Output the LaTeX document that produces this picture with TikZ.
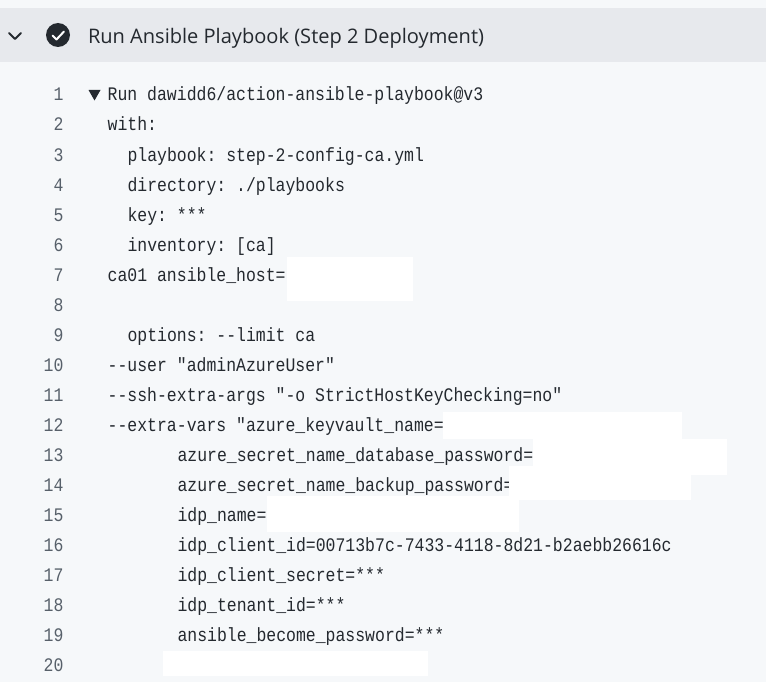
\documentclass[tikz,border=0pt]{standalone}
\usepackage{fontspec}
\setmainfont{Open Sans}
\newfontfamily\codefont[FakeStretch=0.86]{Liberation Mono}
\definecolor{pagebg}{HTML}{F6F8FA}
\definecolor{bandbg}{HTML}{E7E9ED}
\definecolor{inkdark}{HTML}{24292F}
\definecolor{numgrey}{HTML}{57606A}
\tikzset{
  codeline/.style={anchor=base west,inner sep=0pt,outer sep=0pt,text=inkdark,font=\frenchspacing\codefont\fontsize{19.15}{22}\selectfont},
  linenum/.style={anchor=base east,inner sep=0pt,outer sep=0pt,text=numgrey,font=\codefont\fontsize{19.15}{22}\selectfont},
  mask/.style={fill=white,draw=none},
  title/.style={anchor=base west,inner sep=0pt,outer sep=0pt,text=inkdark,font=\fontsize{20.05}{24}\selectfont}
}
\begin{document}
\begin{tikzpicture}[x=1pt,y=-1pt]
\useasboundingbox (0,0) rectangle (766,682);
\fill[pagebg] (0,0) rectangle (766,682);
\fill[bandbg] (0,8) rectangle (766,62);
% header
\draw[inkdark,line width=2pt,line cap=round,line join=round] (9,33) -- (15,39) -- (21,33);
\fill[inkdark] (58,35) circle (12);
\draw[white,line width=2pt,line cap=round,line join=round] (52.5,35.5) -- (56.5,39.5) -- (64,31.5);
\node[title] (head) at (88,44) {Run Ansible Playbook (Step 2 Deployment)};
% line numbers
\foreach \n in {1,...,20}{
  \node[linenum] (num\n) at (63.5,{101+30*(\n-1)}) {\n};
}
% disclosure triangle
\fill[inkdark] (88.5,90) -- (100.5,90) -- (94.5,100.5) -- cycle;
% code
\node[codeline] (l1) at (107.7,101) {Run dawidd6/action-ansible-playbook@v3};
\node[codeline] (l2) at (107.7,131) {with:};
\node[codeline] (l3) at (127.5,161) {playbook: step-2-config-ca.yml};
\node[codeline] (l4) at (127.5,191) {directory: ./playbooks};
\node[codeline] (l5) at (127.5,221) {key: ***};
\node[codeline] (l6) at (127.5,251) {inventory: [ca]};
\node[codeline] (l7) at (107.7,281) {ca01 ansible\_host=};
\node[codeline] (l9) at (127.5,341) {options: --limit ca};
\node[codeline] (l10) at (107.7,371) {--user "adminAzureUser"};
\node[codeline] (l11) at (107.7,401) {--ssh-extra-args "-o StrictHostKeyChecking=no"};
\node[codeline] (l12) at (107.7,431) {--extra-vars "azure\_keyvault\_name=};
\node[codeline] (l13) at (177.5,461) {azure\_secret\_name\_database\_password=};
\node[codeline] (l14) at (177.5,491) {azure\_secret\_name\_backup\_password=};
\node[codeline] (l15) at (177.5,521) {idp\_name=};
\node[codeline] (l16) at (177.5,551) {idp\_client\_id=00713b7c-7433-4118-8d21-b2aebb26616c};
\node[codeline] (l17) at (177.5,581) {idp\_client\_secret=***};
\node[codeline] (l18) at (177.5,611) {idp\_tenant\_id=***};
\node[codeline] (l19) at (177.5,641) {ansible\_become\_password=***};
% redaction patches
\fill[mask] (287,257) rectangle (413,301);
\fill[mask] (443,412) rectangle (682,439);
\fill[mask] (533,439) rectangle (727,475);
\fill[mask] (509,466) rectangle (691,500);
\fill[mask] (267,496) rectangle (519,532);
\fill[mask] (163,651) rectangle (428,676);
\end{tikzpicture}
\end{document}
